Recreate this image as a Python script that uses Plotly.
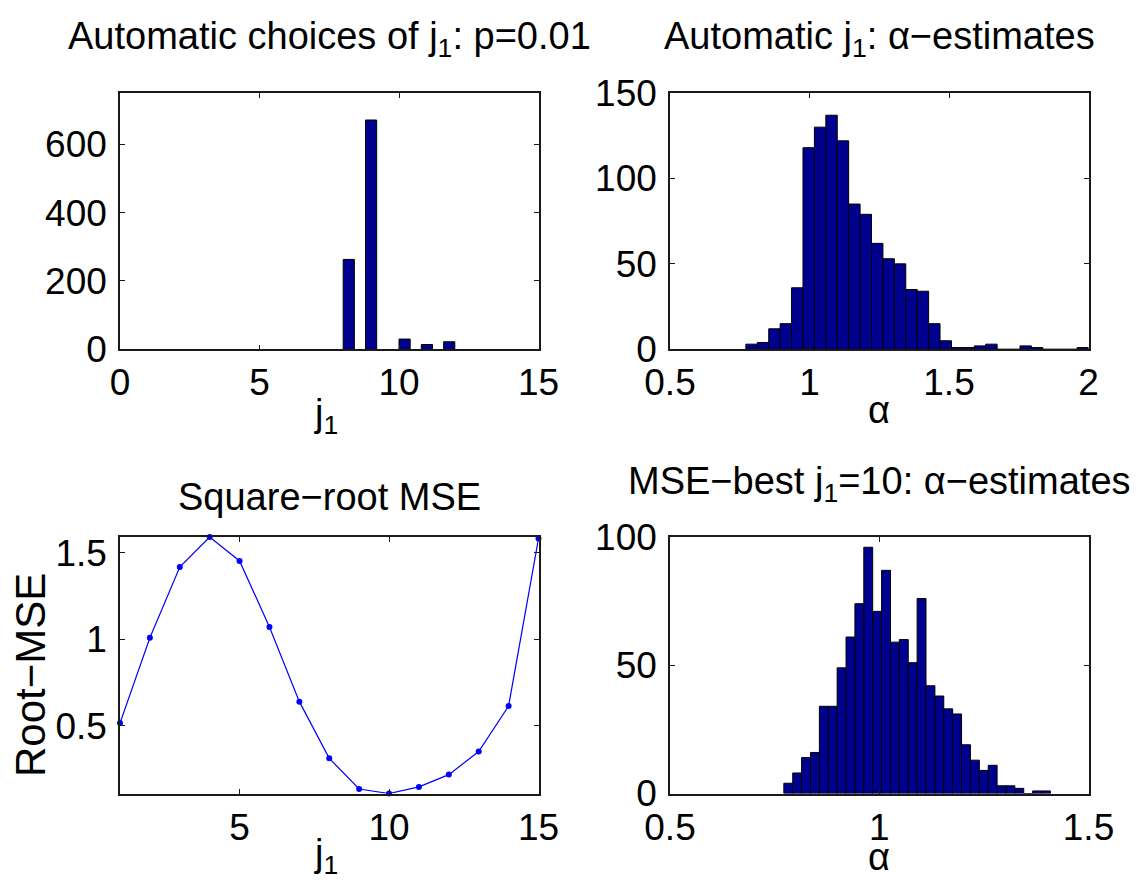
import numpy as np
import plotly.graph_objects as go

# ---- data ----
# automatic choices of j1 (p=0.01): how often each scale was selected
j1_values = [8, 9, 10, 11, 12]
j1_counts = [263, 671, 30, 14, 22]

# alpha estimates with automatic j1: 30-bin histogram between min and max estimate
auto_alpha_min = 0.772
auto_alpha_max = 2.0
auto_alpha_counts = [3, 4, 12, 15, 36, 118, 130, 137, 122, 85,
                     79, 62, 53, 50, 35, 34, 15, 5, 1, 1,
                     2, 3, 0, 0, 2, 1, 0, 0, 0, 1]

# square-root MSE as a function of j1
mse_j1 = list(range(1, 16))
root_mse = [0.517, 1.009, 1.417, 1.59, 1.452, 1.071, 0.64, 0.313,
            0.136, 0.11, 0.148, 0.219, 0.352, 0.615, 1.581]

# alpha estimates with MSE-best j1=10: 30-bin histogram
best_alpha_min = 0.772
best_alpha_max = 1.409
best_alpha_counts = [4, 8, 14, 16, 34, 34, 49, 61, 74, 96,
                     71, 87, 59, 60, 51, 76, 42, 38, 33, 31,
                     19, 13, 9, 11, 3, 3, 2, 0, 1, 1]

BAR_FILL = "rgb(0,0,143)"
FONT = "Liberation Sans, Arial, Helvetica, sans-serif"
W, H = 1141, 884


def hist_bins(lo, hi, n):
    edges = np.linspace(lo, hi, n + 1)
    return (edges[:-1] + edges[1:]) / 2, (hi - lo) / n


fig = go.Figure()

# top-left: choices of j1, binned into 10 bins over [min, max] like MATLAB hist
jc, jw = hist_bins(min(j1_values), max(j1_values), 10)
edges = np.linspace(min(j1_values), max(j1_values), 11)
j1_pos = [jc[min(np.searchsorted(edges, v, side="right") - 1, 9)] for v in j1_values]
fig.add_trace(go.Bar(x=j1_pos, y=j1_counts, width=jw, xaxis="x", yaxis="y",
                     marker=dict(color=BAR_FILL, line=dict(color="black", width=1))))

# top-right: automatic alpha estimates
ac, aw = hist_bins(auto_alpha_min, auto_alpha_max, len(auto_alpha_counts))
fig.add_trace(go.Bar(x=ac, y=auto_alpha_counts, width=aw, xaxis="x2", yaxis="y2",
                     marker=dict(color=BAR_FILL, line=dict(color="black", width=1))))

# bottom-left: root MSE curve
fig.add_trace(go.Scatter(x=mse_j1, y=root_mse, mode="lines+markers", xaxis="x3", yaxis="y3",
                         line=dict(color="rgb(0,0,255)", width=1.2),
                         marker=dict(color="rgb(0,0,255)", size=6), cliponaxis=False))

# bottom-right: MSE-best alpha estimates
bc, bw = hist_bins(best_alpha_min, best_alpha_max, len(best_alpha_counts))
fig.add_trace(go.Bar(x=bc, y=best_alpha_counts, width=bw, xaxis="x4", yaxis="y4",
                     marker=dict(color=BAR_FILL, line=dict(color="black", width=1))))

# axis placement in pixels (left, right, top, bottom)
boxes = {
    1: (120, 538.5, 93, 349.3),
    2: (670, 1088.5, 93, 349.3),
    3: (120, 538.5, 537, 793.5),
    4: (670, 1088.5, 537, 793.5),
}

axis_style = dict(showline=True, mirror="allticks", linecolor="#1a1a1a", linewidth=1.5,
                  ticks="inside", ticklen=5, tickwidth=1, tickcolor="#1a1a1a",
                  showgrid=False, zeroline=False, automargin=False,
                  tickfont=dict(family=FONT, size=37, color="black"))

x_specs = {
    1: dict(range=[0, 15], tickvals=[0, 5, 10, 15]),
    2: dict(range=[0.5, 2], tickvals=[0.5, 1, 1.5, 2], ticktext=["0.5", "1", "1.5", "2"]),
    3: dict(range=[1, 15], tickvals=[5, 10, 15]),
    4: dict(range=[0.5, 1.5], tickvals=[0.5, 1, 1.5], ticktext=["0.5", "1", "1.5"]),
}
y_specs = {
    1: dict(range=[0, 750], tickvals=[0, 200, 400, 600]),
    2: dict(range=[0, 150], tickvals=[0, 50, 100, 150]),
    3: dict(range=[min(root_mse), max(root_mse)], tickvals=[0.5, 1, 1.5], ticktext=["0.5", "1", "1.5"]),
    4: dict(range=[0, 100], tickvals=[0, 50, 100]),
}

layout = dict(template="none", width=W, height=H, margin=dict(l=0, r=0, t=0, b=0),
              paper_bgcolor="white", plot_bgcolor="white", showlegend=False,
              font=dict(family=FONT, color="black"))
for i, (l, r, t, b) in boxes.items():
    sx = "" if i == 1 else str(i)
    layout["xaxis" + sx] = dict(domain=[l / W, r / W], anchor="y" + sx,
                                ticklabelstandoff=0, **x_specs[i], **axis_style)
    layout["yaxis" + sx] = dict(domain=[1 - b / H, 1 - t / H], anchor="x" + sx,
                                ticklabelstandoff=4, **y_specs[i], **axis_style)
fig.update_layout(**layout)


def label(text, x_px, y_px, size=38, angle=0):
    fig.add_annotation(text=text, x=x_px / W, y=1 - y_px / H, xref="paper", yref="paper",
                       showarrow=False, xanchor="center", yanchor="middle", textangle=angle,
                       font=dict(family=FONT, size=size, color="black"))


# titles
label("Automatic choices of j<sub>1</sub>: p=0.01", 329, 39)
label("Automatic j<sub>1</sub>: α−estimates", 879, 39)
label("Square−root MSE", 329, 497)
label("MSE−best j<sub>1</sub>=10: α−estimates", 879, 484)

# axis labels
label("j<sub>1</sub>", 326, 416)
label("α", 879, 410)
label("j<sub>1</sub>", 326, 856)
label("α", 879, 857)
label("Root−MSE", 30, 675, size=42, angle=-90)

fig.write_html("out.html")
